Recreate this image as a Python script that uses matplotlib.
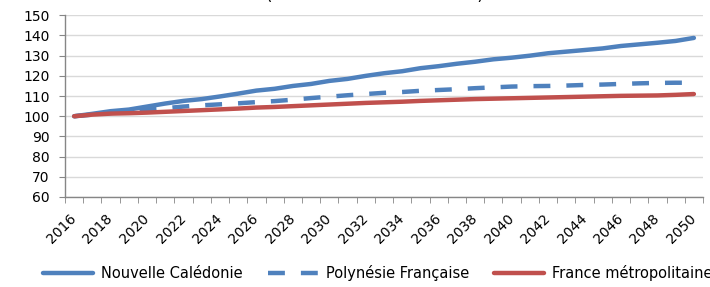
import matplotlib
matplotlib.use("Agg")
import matplotlib.pyplot as plt
import numpy as np

years = list(range(2016, 2051))
nouvelle_caledonie = [100, 101.2, 102.5, 103.3, 104.8, 106.3, 107.6, 108.5, 109.8, 111.2,
                      112.7, 113.6, 115.0, 116.0, 117.5, 118.5, 120.0, 121.3, 122.3, 123.8,
                      124.8, 126.0, 127.0, 128.2, 129.0, 130.0, 131.2, 132.0, 132.8, 133.6,
                      134.8, 135.6, 136.4, 137.3, 138.8]
polynesie = [100, 100.8, 101.6, 102.4, 103.2, 104.0, 104.8, 105.4, 105.9, 106.4,
             107.0, 107.5, 108.2, 109.0, 109.7, 110.4, 111.0, 111.6, 112.0, 112.6,
             113.0, 113.4, 113.9, 114.3, 114.7, 114.9, 115.0, 115.2, 115.5, 115.7,
             116.0, 116.3, 116.5, 116.6, 116.6]
france = [100, 100.8, 101.3, 101.5, 101.8, 102.2, 102.6, 103.0, 103.4, 103.8,
          104.3, 104.6, 105.0, 105.4, 105.8, 106.2, 106.6, 106.9, 107.2, 107.6,
          107.9, 108.2, 108.5, 108.7, 108.9, 109.1, 109.3, 109.5, 109.7, 109.9,
          110.1, 110.2, 110.3, 110.6, 111.0]
series_labels = ["Nouvelle Calédonie", "Polynésie Française", "France métropolitaine"]
yticks = list(range(60, 151, 10))

BLUE = "#4F81BD"
RED = "#C0504D"
W, H = 710, 287
fig = plt.figure(figsize=(W / 100, H / 100), dpi=100)
ax = fig.add_axes([65 / W, 1 - 197 / H, (703 - 65) / W, (197 - 15.3) / H])

x = np.arange(len(years))
ax.plot(x, nouvelle_caledonie, color=BLUE, lw=3.2, solid_capstyle="round",
        label=series_labels[0], zorder=3)
ax.plot(x, polynesie, color=BLUE, lw=3.2, dashes=(3.8, 3.6),
        label=series_labels[1], zorder=3)
ax.plot(x, france, color=RED, lw=3.2, solid_capstyle="round",
        label=series_labels[2], zorder=3)

ax.set_xlim(-0.5, len(years) - 0.5)
ax.set_ylim(60, 150)
ax.set_yticks(yticks)
ax.yaxis.grid(True, color="#D9D9D9", lw=1)
ax.set_axisbelow(True)

ax.set_xticks(x[::2])
ax.set_xticklabels([str(y) for y in years[::2]], rotation=45, ha="right",
                   rotation_mode="anchor", va="center", fontsize=10)
ax.set_xticks(np.arange(-0.5, len(years)), minor=True)
ax.tick_params(axis="x", which="major", length=0, pad=14)
ax.tick_params(axis="x", which="minor", length=4, color="#868686", direction="out")
ax.tick_params(axis="y", length=4, color="#868686", direction="out", labelsize=10, pad=7)

for s in ["top", "right"]:
    ax.spines[s].set_visible(False)
for s in ["left", "bottom"]:
    ax.spines[s].set_color("#868686")
    ax.spines[s].set_linewidth(1)

leg = fig.legend(loc="center left", bbox_to_anchor=(36 / W, 1 - 273 / H), ncol=3,
                 frameon=False, borderpad=0, handlelength=3.4, handletextpad=0.55,
                 columnspacing=1.75, fontsize=10.5)

fig.text(0.528, 1.0, "(indice base 100 en 2016)", ha="center", va="baseline",
         fontsize=12)

fig.savefig("out.png", dpi=100)
